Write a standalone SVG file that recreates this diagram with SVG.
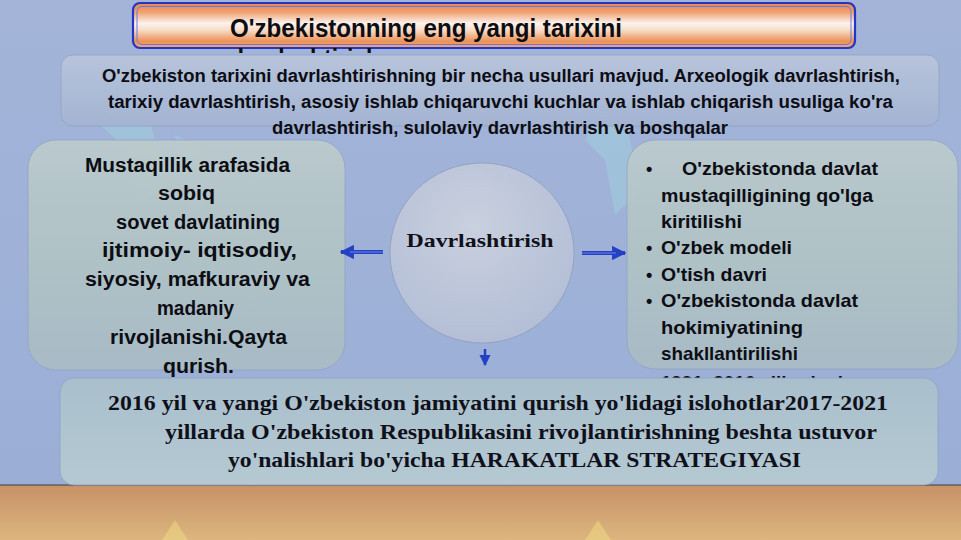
<svg xmlns="http://www.w3.org/2000/svg" width="961" height="540" viewBox="0 0 961 540">
<defs>
<linearGradient id="bgTop" x1="0" y1="0" x2="0" y2="1">
<stop offset="0" stop-color="#a3b4d8"/><stop offset="1" stop-color="#9aaed6"/>
</linearGradient>
<linearGradient id="bgBot" x1="0" y1="0" x2="0" y2="1">
<stop offset="0" stop-color="#c79267"/><stop offset="0.6" stop-color="#d3a774"/><stop offset="1" stop-color="#dcb67e"/>
</linearGradient>
<linearGradient id="titleG" x1="0" y1="0" x2="0" y2="1">
<stop offset="0" stop-color="#e9874a"/><stop offset="0.2" stop-color="#f0a070"/><stop offset="0.45" stop-color="#fbf3ee"/><stop offset="0.6" stop-color="#f8ddc8"/><stop offset="0.85" stop-color="#ec9258"/><stop offset="1" stop-color="#f0a676"/>
</linearGradient>
<linearGradient id="boxG" x1="0" y1="0" x2="0" y2="1">
<stop offset="0" stop-color="#b9c6dc"/><stop offset="1" stop-color="#a4b4d2"/>
</linearGradient>
<linearGradient id="sideG" x1="0" y1="0" x2="0" y2="1">
<stop offset="0" stop-color="#bccbcd"/><stop offset="0.5" stop-color="#b0c3c6"/><stop offset="1" stop-color="#a9bcc6"/>
</linearGradient>
<linearGradient id="botG" x1="0" y1="0" x2="0" y2="1">
<stop offset="0" stop-color="#a9bfcc"/><stop offset="1" stop-color="#b4c9d2"/>
</linearGradient>
<radialGradient id="circG" cx="0.45" cy="0.35" r="0.7">
<stop offset="0" stop-color="#c9d0de"/><stop offset="1" stop-color="#b2bdd6"/>
</radialGradient>
<clipPath id="clipTitle2"><rect x="130" y="47" width="730" height="6"/></clipPath>
<marker id="ah" viewBox="0 0 10 10" refX="9" refY="5" markerWidth="3.6" markerHeight="3.6" orient="auto" markerUnits="strokeWidth">
<path d="M0,0 L10,5 L0,10 z" fill="#2440c4"/>
</marker>
<marker id="ahd" viewBox="0 0 10 10" refX="9" refY="5" markerWidth="4.5" markerHeight="4.5" orient="auto" markerUnits="strokeWidth">
<path d="M0,0 L10,5 L0,10 z" fill="#2440c4"/>
</marker>
</defs>
<style>
.sans{font-family:"Liberation Sans","Arial",sans-serif;font-weight:bold;fill:#0d0d14}
.serif{font-family:"Liberation Serif","Times New Roman",serif;font-weight:bold;fill:#10101a}
.box{stroke:#8fa2c4;stroke-width:0.8}
.wm{fill:#9fe6e0;opacity:0.3}
.wmy{fill:#f2de86;opacity:0.5}
.arr{stroke:#2440c4;stroke-width:4;fill:none}
.arrIn{stroke:#6f86e6;stroke-width:1;fill:none}
</style>

<rect x="0" y="0" width="961" height="540" fill="url(#bgTop)"/>
<rect x="0" y="485" width="961" height="55" fill="url(#bgBot)"/>
<line x1="0" y1="485" x2="961" y2="485" stroke="#3a3a44" stroke-width="1"/>

<g id="watermarks">
<path class="wm" d="M118,95 L150,120 L165,180 L140,205 L128,150 L100,125 z"/>
<path class="wm" d="M598,110 L628,130 L640,190 L615,215 L605,160 L585,140 z"/>
<path class="wm" d="M175,135 L205,150 L210,200 L190,215 L182,170 z"/>
<path class="wmy" d="M175,520 L188,540 L162,540 z"/>
<path class="wmy" d="M598,520 L611,540 L585,540 z"/>
</g>

<g id="title">
<rect x="133" y="3" width="722" height="45" rx="7" fill="url(#titleG)" stroke="#2436c8" stroke-width="2.2"/>
<rect x="137" y="6.5" width="714" height="38" rx="5" fill="none" stroke="#6878e0" stroke-width="1"/>
<text class="sans" x="230" y="37" font-size="25" textLength="392" lengthAdjust="spacingAndGlyphs">O'zbekistonning eng yangi tarixini</text>
<text class="sans" x="230" y="67" font-size="25" clip-path="url(#clipTitle2)" textLength="150" lengthAdjust="spacingAndGlyphs">davrlashtirish</text>
</g>

<g id="intro">
<rect class="box" x="61" y="55" width="878" height="71" rx="12" fill="url(#boxG)" opacity="0.92"/>
<text class="sans" x="102" y="82" font-size="17.5" textLength="798" lengthAdjust="spacingAndGlyphs">O'zbekiston tarixini davrlashtirishning bir necha usullari mavjud. Arxeologik davrlashtirish,</text>
<text class="sans" x="108" y="108" font-size="17.5" textLength="785" lengthAdjust="spacingAndGlyphs">tarixiy  davrlashtirish, asosiy ishlab chiqaruvchi kuchlar va ishlab chiqarish usuliga ko'ra</text>
<text class="sans" x="272" y="134" font-size="17.5" textLength="456" lengthAdjust="spacingAndGlyphs">davrlashtirish,  sulolaviy davrlashtirish va boshqalar</text>
</g>

<g id="left">
<rect class="box" x="28" y="140" width="317" height="230" rx="28" fill="url(#sideG)" opacity="0.95"/>
<text class="sans" x="85" y="172" font-size="19.5" textLength="205" lengthAdjust="spacingAndGlyphs">Mustaqillik arafasida</text>
<text class="sans" x="158" y="200" font-size="19.5" textLength="57" lengthAdjust="spacingAndGlyphs">sobiq</text>
<text class="sans" x="116" y="229" font-size="19.5" textLength="164" lengthAdjust="spacingAndGlyphs">sovet davlatining</text>
<text class="sans" x="102" y="257" font-size="19.5" textLength="195" lengthAdjust="spacingAndGlyphs">ijtimoiy- iqtisodiy,</text>
<text class="sans" x="85" y="286" font-size="19.5" textLength="225" lengthAdjust="spacingAndGlyphs">siyosiy,  mafkuraviy va</text>
<text class="sans" x="157" y="315" font-size="19.5" textLength="77" lengthAdjust="spacingAndGlyphs">madaniy</text>
<text class="sans" x="110" y="344" font-size="19.5" textLength="177" lengthAdjust="spacingAndGlyphs">rivojlanishi.Qayta</text>
<text class="sans" x="163" y="373" font-size="19.5" textLength="71" lengthAdjust="spacingAndGlyphs">qurish.</text>
</g>

<g id="right">
<rect class="box" x="627" y="140" width="331" height="229" rx="28" fill="url(#sideG)" opacity="0.95"/>
<text class="sans" x="646" y="175" font-size="18">•</text>
<text class="sans" x="682" y="175" font-size="19" textLength="196" lengthAdjust="spacingAndGlyphs">O'zbekistonda davlat</text>
<text class="sans" x="661" y="202" font-size="19" textLength="212" lengthAdjust="spacingAndGlyphs">mustaqilligining qo'lga</text>
<text class="sans" x="661" y="228" font-size="19" textLength="81" lengthAdjust="spacingAndGlyphs">kiritilishi</text>
<text class="sans" x="646" y="254" font-size="18">•</text>
<text class="sans" x="661" y="254" font-size="19" textLength="131" lengthAdjust="spacingAndGlyphs">O'zbek modeli</text>
<text class="sans" x="646" y="281" font-size="18">•</text>
<text class="sans" x="661" y="281" font-size="19" textLength="106" lengthAdjust="spacingAndGlyphs">O'tish davri</text>
<text class="sans" x="646" y="307" font-size="18">•</text>
<text class="sans" x="661" y="307" font-size="19" textLength="197" lengthAdjust="spacingAndGlyphs">O'zbekistonda davlat</text>
<text class="sans" x="661" y="334" font-size="19" textLength="142" lengthAdjust="spacingAndGlyphs">hokimiyatining</text>
<text class="sans" x="661" y="360" font-size="19" textLength="137" lengthAdjust="spacingAndGlyphs">shakllantirilishi</text>
<text class="sans" x="646" y="389" font-size="18">•</text>
<text class="sans" x="661" y="389" font-size="19" textLength="182" lengthAdjust="spacingAndGlyphs">1991–2016 yillardagi</text>
</g>

<g id="center">
<ellipse cx="482" cy="253" rx="92" ry="90" fill="url(#circG)" stroke="#8e9cbc" stroke-width="0.8"/>
<text class="serif" x="480" y="247" font-size="19" text-anchor="middle" textLength="147" lengthAdjust="spacingAndGlyphs">Davrlashtirish</text>
</g>

<g id="connectors">
<line class="arr" x1="383" y1="252" x2="341" y2="252" marker-end="url(#ah)"/>
<line class="arrIn" x1="383" y1="252" x2="350" y2="252"/>
<line class="arr" x1="582" y1="253" x2="625" y2="253" marker-end="url(#ah)"/>
<line class="arrIn" x1="582" y1="253" x2="616" y2="253"/>
<line x1="485" y1="349" x2="485" y2="365" stroke="#2440c4" stroke-width="2.5" marker-end="url(#ahd)"/>
</g>

<g id="bottom">
<rect class="box" x="60" y="378" width="878" height="107" rx="14" fill="url(#botG)"/>
<text class="serif" x="108" y="410" font-size="21" textLength="780" lengthAdjust="spacingAndGlyphs">2016 yil va yangi O'zbekiston jamiyatini qurish yo'lidagi islohotlar2017-2021</text>
<text class="serif" x="165" y="439" font-size="21" textLength="712" lengthAdjust="spacingAndGlyphs">yillarda O'zbekiston Respublikasini rivojlantirishning beshta ustuvor</text>
<text class="serif" x="228" y="467" font-size="21" textLength="573" lengthAdjust="spacingAndGlyphs">yo'nalishlari bo'yicha HARAKATLAR STRATEGIYASI</text>
</g>
</svg>
